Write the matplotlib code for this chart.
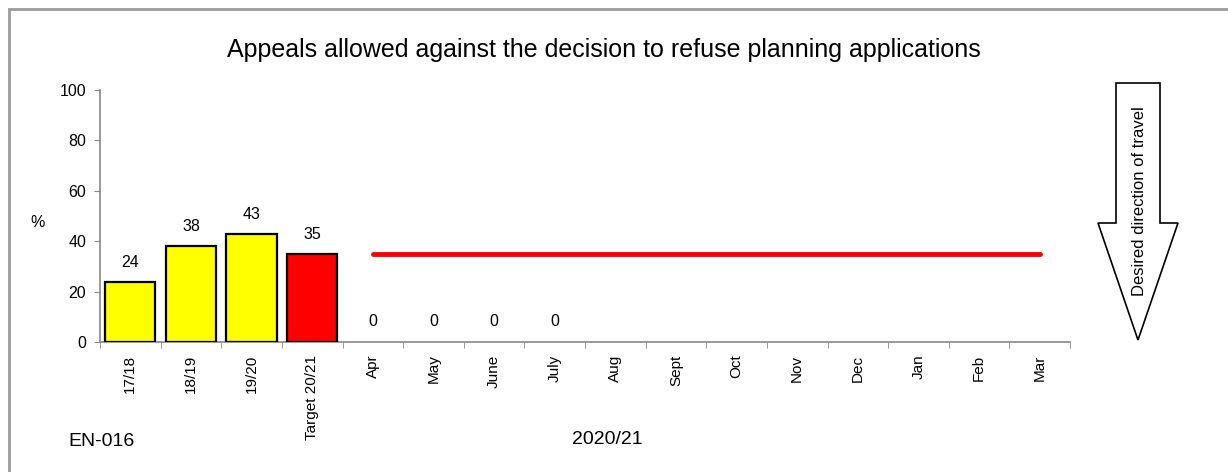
import numpy as np
import matplotlib.pyplot as plt
from matplotlib.patches import Polygon, Rectangle

plt.rcParams['font.family'] = ['Liberation Sans', 'DejaVu Sans']

categories = ["17/18", "18/19", "19/20", "Target 20/21",
              "Apr", "May", "June", "July", "Aug", "Sept", "Oct", "Nov",
              "Dec", "Jan", "Feb", "Mar"]
annual_values = [24, 38, 43, 35]
annual_colors = ["#FFFF00", "#FFFF00", "#FFFF00", "#FF0000"]
monthly_values = [0, 0, 0, 0]          # Apr-July reported so far
target_line = [35] * 12                # Apr-Mar target

W, H = 1228, 472
fig = plt.figure(figsize=(W / 100, H / 100), dpi=100)
ax = fig.add_axes([100 / W, 1 - 342 / H, (1070 - 100) / W, (342 - 90) / H])

x = np.arange(len(categories))

# annual bars
ax.bar(x[:4], annual_values, width=0.83, color=annual_colors,
       edgecolor="black", linewidth=1.6, zorder=3)
for xi, v in zip(x[:4], annual_values):
    ax.annotate(str(v), (xi, v), xytext=(0, 14), textcoords="offset points",
                ha="center", va="center", fontsize=11.5)

# monthly bars (zero so far)
ax.bar(x[4:4 + len(monthly_values)], monthly_values, width=0.83,
       color="#FFFF00", edgecolor="black", linewidth=0, zorder=3)
for xi, v in zip(x[4:4 + len(monthly_values)], monthly_values):
    ax.annotate(str(v), (xi, v), xytext=(0, 15), textcoords="offset points",
                ha="center", va="center", fontsize=11.5)

# target line
ax.plot(x[4:], target_line, color="#FF0000", linewidth=3.5,
        solid_capstyle="round", zorder=4)

ax.set_xlim(-0.5, len(categories) - 0.5)
ax.set_ylim(0, 100)
ax.set_yticks(range(0, 101, 20))
ax.set_xticks(x)
ax.set_xticklabels(categories, rotation=90, fontsize=11)
ax.set_xticks(np.arange(-0.5, len(categories), 1), minor=True)
ax.tick_params(axis="x", which="major", length=0, pad=9)
ax.tick_params(axis="x", which="minor", length=4, color="#888888", direction="out")
ax.tick_params(axis="y", length=4, color="#888888", labelsize=11.5, pad=6)

for s in ["top", "right"]:
    ax.spines[s].set_visible(False)
for s in ["left", "bottom"]:
    ax.spines[s].set_color("#888888")
    ax.spines[s].set_linewidth(1.2)

fig.text(38 / W, 1 - 222 / H, "%", ha="center", va="center", fontsize=11.5)
fig.text(604 / W, 1 - 50 / H, "Appeals allowed against the decision to refuse planning applications",
         ha="center", va="center", fontsize=18)
fig.text(68 / W, 1 - 441 / H, "EN-016", ha="left", va="center", fontsize=14)
fig.text(607 / W, 1 - 440 / H, "2020/21", ha="center", va="center", fontsize=14)

# desired direction arrow
pts = [(1116, 83), (1160, 83), (1160, 223), (1178, 223), (1138, 340),
       (1098, 223), (1116, 223)]
arrow = Polygon([(px / W, 1 - py / H) for px, py in pts], closed=True,
                transform=fig.transFigure, facecolor="white",
                edgecolor="black", linewidth=1.2)
fig.patches.append(arrow)
fig.text(1139 / W, 1 - 201 / H, "Desired direction of travel", rotation=90,
         ha="center", va="center", fontsize=12)

# outer frame
frame = Rectangle((8.5 / W, -0.05), 1.1, 1 - 8.5 / H + 0.05,
                  transform=fig.transFigure, fill=False,
                  edgecolor="#9a9a9a", linewidth=2)
fig.patches.append(frame)

fig.savefig("out.png", dpi=100)
